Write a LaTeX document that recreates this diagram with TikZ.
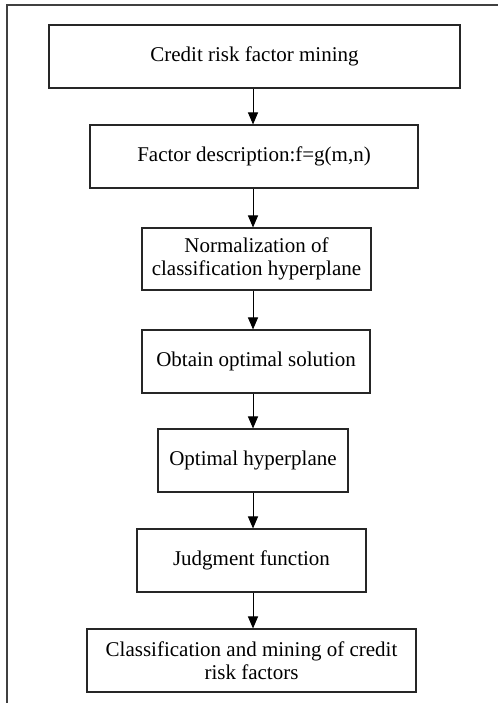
\documentclass[tikz,border=0pt]{standalone}
\usepackage{fontspec}
\setmainfont{Liberation Serif}
\usetikzlibrary{arrows.meta}
\begin{document}
\begin{tikzpicture}[x=1pt,y=-1pt,
  box/.style={draw=black!85,line width=1.1pt,inner sep=0pt,align=center,
    font=\fontsize{21}{23}\selectfont},
  arr/.style={draw=black,line width=1pt,-{Triangle[length=12pt,width=10pt]}},
  frame/.style={draw=black!75,line width=1.1pt}]
\useasboundingbox (0,0) rectangle (498,703);
\coordinate (fb) at (7,703);
\coordinate (fc) at (7,5);
\coordinate (fr) at (498,5);
\draw[frame] (fb) -- (fc) -- (fr);
\node[box,minimum width=411pt,minimum height=63pt] (b1) at (254.5,56.5) {Credit risk factor mining};
\node[box,minimum width=328pt,minimum height=63pt] (b2) at (254,156.5) {Factor description:f=g(m,n)};
\node[box,minimum width=229pt,minimum height=62pt] (b3) at (256.5,259) {Normalization of\\classification hyperplane};
\node[box,minimum width=228pt,minimum height=63pt] (b4) at (256,361.5) {Obtain optimal solution};
\node[box,minimum width=190pt,minimum height=63pt] (b5) at (253,460.5) {Optimal hyperplane};
\node[box,minimum width=229pt,minimum height=63pt] (b6) at (251.5,560.5) {Judgment function};
\node[box,minimum width=329pt,minimum height=63pt] (b7) at (251.5,660.5) {Classification and mining of credit\\risk factors};
\coordinate (ax) at (253,0);
\draw[arr] (b1.south -| ax) -- (b2.north -| ax);
\draw[arr] (b2.south -| ax) -- (b3.north -| ax);
\draw[arr] (b3.south -| ax) -- (b4.north -| ax);
\draw[arr] (b4.south -| ax) -- (b5.north -| ax);
\draw[arr] (b5.south -| ax) -- (b6.north -| ax);
\draw[arr] (b6.south -| ax) -- (b7.north -| ax);
\end{tikzpicture}
\end{document}
